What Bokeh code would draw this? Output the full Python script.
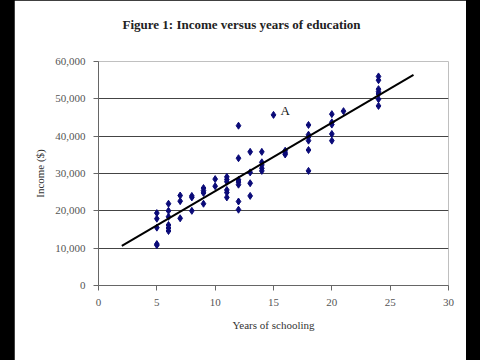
from bokeh.plotting import figure
from bokeh.models import (ColumnDataSource, FixedTicker, NumeralTickFormatter,
                          Title, Range1d, Spacer)
from bokeh.layouts import row
from bokeh.core.properties import value
from bokeh.embed import file_html
from bokeh.resources import INLINE

# ---- data ----
schooling = ([5]*5 + [6]*6 + [7]*3 + [8]*3 + [9]*4 + [10]*2 + [11]*6 + [12]*7 +
             [13]*4 + [14]*5 + [15] + [16]*3 + [18]*6 + [20]*5 + [21] + [24]*7)
income = [19400, 17900, 15500, 11100, 10800,
          21900, 20000, 18400, 16200, 15400, 14600,
          24100, 22600, 18000,
          24000, 23600, 20000,
          26100, 25400, 24800, 21900,
          28500, 26600,
          29100, 28400, 27800, 25600, 24900, 23600,
          42800, 34100, 28300, 27700, 27000, 22500, 20300,
          35800, 30300, 27400, 24000,
          35800, 33000, 32300, 31400, 30700,
          45700,
          36100, 35500, 35100,
          43000, 40400, 39800, 38800, 36300, 30700,
          45900, 43700, 43100, 40600, 38800,
          46700,
          56000, 55000, 52600, 51900, 51300, 49900, 48100]

fit_x = [2, 27]
fit_y = [10600, 56400]

label_x = [15.6]
label_y = [47000]
label_text = ["A"]

x_ticks = [0, 5, 10, 15, 20, 25, 30]
y_ticks = [0, 10000, 20000, 30000, 40000, 50000, 60000]
grid_ticks = [10000, 20000, 30000, 40000, 50000]

SERIF = "Liberation Serif"

p = figure(width=452, height=360, output_backend="svg", toolbar_location=None,
           x_range=Range1d(0, 30), y_range=Range1d(0, 60000),
           min_border_left=84, min_border_right=18, min_border_top=61,
           min_border_bottom=75, margin=0)
p.background_fill_color = "white"
p.border_fill_color = "white"
p.outline_line_color = None

# trailing empty lines lift the title up inside the top border
title = Title(text="Figure 1: Income versus years of education\n\n", align="left",
              offset=24, standoff=0, text_font=SERIF, text_font_style="bold",
              text_font_size="13px", text_color="#222222")
p.add_layout(title, "above")

# axes
for ax in (p.xaxis[0], p.yaxis[0]):
    ax.axis_line_color = "#666666"
    ax.major_tick_line_color = "#666666"
    ax.minor_tick_line_color = None
    ax.major_tick_in = 0
    ax.major_tick_out = 5
    ax.major_label_text_font = SERIF
    ax.major_label_text_font_size = "11px"
    ax.major_label_text_color = "#555555"
    ax.axis_label_text_font = SERIF
    ax.axis_label_text_font_size = "11px"
    ax.axis_label_text_font_style = "normal"
    ax.axis_label_text_color = "#333333"

p.xaxis.ticker = FixedTicker(ticks=x_ticks)
p.yaxis.ticker = FixedTicker(ticks=y_ticks)
p.yaxis.formatter = NumeralTickFormatter(format="0,0")
p.xaxis.axis_label = "Years of schooling"
p.yaxis.axis_label = "Income ($)"
p.xaxis.major_label_standoff = 8
p.yaxis.major_label_standoff = 8
p.xaxis.axis_label_standoff = 10
p.yaxis.axis_label_standoff = 6

p.xgrid.visible = False
p.ygrid.ticker = FixedTicker(ticks=grid_ticks)
p.ygrid.grid_line_color = "#444444"
p.ygrid.grid_line_width = 1

src = ColumnDataSource(dict(x=schooling, y=income))
p.scatter("x", "y", source=src, marker="diamond", size=7,
          fill_color="#0a0a78", line_color="#0a0a78")

p.line(fit_x, fit_y, line_color="black", line_width=2)

p.text(x=label_x, y=label_y, text=label_text, text_font=value(SERIF),
       text_font_size="13px", text_baseline="middle", text_align="left",
       text_color="#111111")

# black letterbox strips at the sides of the reference picture
left_bar = figure(width=14, height=360, output_backend="svg", toolbar_location=None,
                  min_border=0, margin=0, x_range=Range1d(0, 1), y_range=Range1d(0, 1))
left_bar.axis.visible = False
left_bar.grid.visible = False
left_bar.outline_line_color = None
left_bar.background_fill_color = "black"
left_bar.border_fill_color = "black"

right_bar = Spacer(width=14, height=360, margin=0, styles={"background-color": "black"})
layout = row(left_bar, p, right_bar, spacing=0, margin=0,
             styles={"background-color": "black"})

open("out.html", "w").write(file_html(layout, INLINE))
